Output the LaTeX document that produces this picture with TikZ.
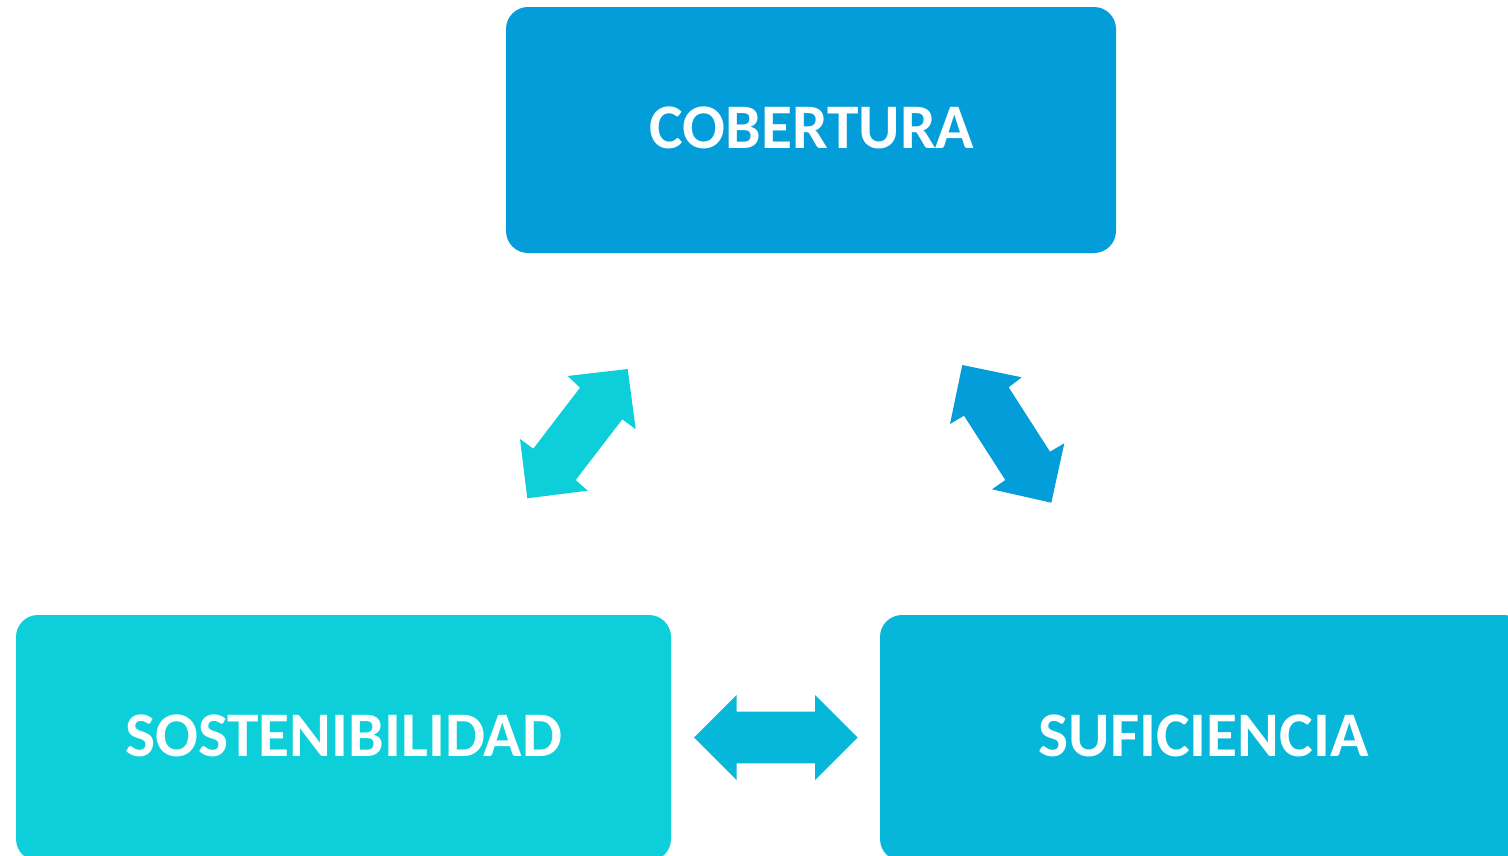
\documentclass[tikz,border=0pt]{standalone}
\usepackage{fontspec}
\setmainfont{Carlito}
\definecolor{cobC}{HTML}{039ED9}
\definecolor{sosC}{HTML}{0DCFD9}
\definecolor{sufC}{HTML}{07B7D9}
\tikzset{
  box/.style={rounded corners=22pt, minimum height=246pt, inner sep=0pt, text=white,
    font=\bfseries\fontsize{63.5pt}{63.5pt}\selectfont},
  blockarrow/.style={draw=none}
}
\begin{document}
\begin{tikzpicture}[x=1pt,y=-1pt]
\useasboundingbox (0,0) rectangle (1508,855);
\clip (0,0) rectangle (1508,855);
\node[box, fill=cobC, minimum width=610pt] (cob) at (811,130) {};
\node[text=white, font=\bfseries\fontsize{63.5pt}{63.5pt}\selectfont, inner sep=0pt] (cobt) at (812,128) {COBERTURA};
\node[box, fill=sosC, minimum width=655pt] (sos) at (343.5,738) {};
\node[text=white, font=\bfseries\fontsize{63.5pt}{63.5pt}\selectfont, inner sep=0pt] (sost) at (343.5,736) {SOSTENIBILIDAD};
\node[box, fill=sufC, minimum width=646pt] (suf) at (1203,738) {};
\node[text=white, font=\bfseries\fontsize{63.5pt}{63.5pt}\selectfont, inner sep=0pt] (suft) at (1203.5,736) {SUFICIENCIA};
% left diagonal double arrow
\fill[sosC] (627.7,369) -- (635.7,429.3) -- (622.3,419.3) -- (575.7,480) -- (587.7,490.7)
  -- (527.3,498.3) -- (520,439) -- (533.3,448.7) -- (580,387.7) -- (567.7,376) -- cycle;
% right diagonal double arrow
\fill[cobC] (962.3,365) -- (1021.7,377.3) -- (1008.7,387.3) -- (1050,451.7) -- (1064.3,443.3)
  -- (1051.3,502.7) -- (992,489.3) -- (1005.3,480) -- (964,415.7) -- (950,424) -- cycle;
% horizontal double arrow
\fill[sufC] (694,737.5) -- (736.7,695) -- (736.7,711.7) -- (815,711.7) -- (815,695)
  -- (857.7,737.5) -- (815,780) -- (815,763.3) -- (736.7,763.3) -- (736.7,780) -- cycle;
\end{tikzpicture}
\end{document}
